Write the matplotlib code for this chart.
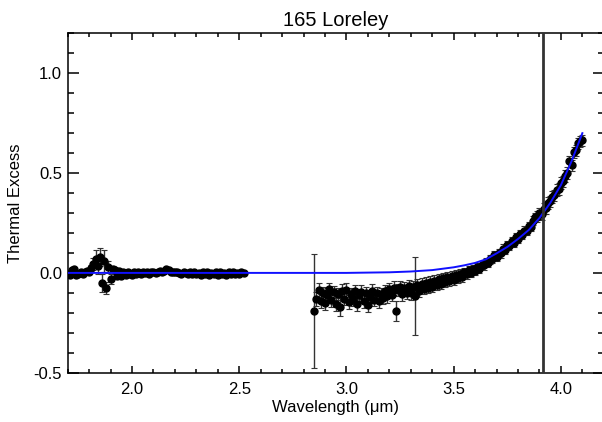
import numpy as np
import matplotlib
matplotlib.use("Agg")
import matplotlib.pyplot as plt
from matplotlib.ticker import MultipleLocator, FormatStrFormatter

plt.rcParams['font.family'] = ['Liberation Sans', 'DejaVu Sans']

title = "165 Loreley"

# short-wavelength segment
wl1 = [1.70, 1.71, 1.72, 1.73, 1.74, 1.75, 1.76, 1.77, 1.78, 1.79,
       1.80, 1.81, 1.82, 1.83, 1.84, 1.85, 1.86, 1.87, 1.88, 1.89,
       1.90, 1.91, 1.92, 1.93, 1.94, 1.95, 1.96, 1.97, 1.98, 1.99,
       2.00, 2.01, 2.02, 2.03, 2.04, 2.05, 2.06, 2.07, 2.08, 2.09,
       2.10, 2.11, 2.12, 2.13, 2.14, 2.15, 2.16, 2.17, 2.18, 2.19,
       2.20, 2.21, 2.22, 2.23, 2.24, 2.25, 2.26, 2.27, 2.28, 2.29,
       2.30, 2.31, 2.32, 2.33, 2.34, 2.35, 2.36, 2.37, 2.38, 2.39,
       2.40, 2.41, 2.42, 2.43, 2.44, 2.45, 2.46, 2.47, 2.48, 2.49,
       2.50, 2.51, 2.52]
ex1 = [-0.008, -0.012, 0.015, 0.018, -0.010, -0.004, 0.002, -0.008, 0.006, 0.010,
       0.006, 0.025, 0.045, 0.070, 0.035, 0.080, -0.050, 0.060, -0.075, 0.030,
       -0.030, 0.020, 0.012, -0.015, 0.010, -0.018, 0.006, -0.010, 0.004, -0.006,
       -0.012, 0.002, -0.005, 0.003, -0.004, 0.004, -0.002, 0.003, -0.004, 0.004,
       0.006, 0.000, 0.005, 0.007, 0.002, 0.010, 0.018, 0.012, 0.006, 0.002,
       0.004, 0.005, 0.001, -0.004, 0.004, 0.000, -0.006, 0.003, -0.008, 0.002,
       -0.006, 0.001, -0.010, 0.002, -0.008, 0.003, -0.010, 0.001, -0.006, 0.002,
       -0.010, 0.003, -0.006, 0.001, -0.009, 0.002, -0.006, 0.003, -0.008, 0.001,
       -0.004, 0.002, -0.003]
err1 = [0.008, 0.008, 0.008, 0.008, 0.008, 0.008, 0.008, 0.008, 0.008, 0.008,
        0.010, 0.015, 0.030, 0.045, 0.040, 0.045, 0.045, 0.055, 0.030, 0.030,
        0.025, 0.015, 0.012, 0.010, 0.010, 0.010, 0.008, 0.008, 0.008, 0.008,
        0.008, 0.006, 0.006, 0.006, 0.006, 0.006, 0.006, 0.006, 0.006, 0.006,
        0.006, 0.006, 0.006, 0.006, 0.006, 0.006, 0.006, 0.006, 0.006, 0.006,
        0.006, 0.006, 0.006, 0.006, 0.006, 0.006, 0.006, 0.006, 0.006, 0.006,
        0.006, 0.006, 0.006, 0.006, 0.006, 0.006, 0.006, 0.006, 0.006, 0.006,
        0.006, 0.006, 0.006, 0.006, 0.006, 0.006, 0.006, 0.006, 0.006, 0.006,
        0.006, 0.006, 0.006]

# long-wavelength segment
wl2 = [2.85, 2.86, 2.87, 2.88, 2.89, 2.90, 2.91, 2.92, 2.93, 2.94,
       2.95, 2.96, 2.97, 2.98, 2.99, 3.00, 3.01, 3.02, 3.03, 3.04,
       3.05, 3.06, 3.07, 3.08, 3.09, 3.10, 3.11, 3.12, 3.13, 3.14,
       3.15, 3.16, 3.17, 3.18, 3.19, 3.20, 3.21, 3.22, 3.23, 3.24,
       3.25, 3.26, 3.27, 3.28, 3.29, 3.30, 3.31, 3.32, 3.33, 3.34,
       3.35, 3.36, 3.37, 3.38, 3.39, 3.40, 3.41, 3.42, 3.43, 3.44,
       3.45, 3.46, 3.47, 3.48, 3.49, 3.50, 3.51, 3.52, 3.53, 3.54,
       3.55, 3.56, 3.57, 3.58, 3.59, 3.60, 3.61, 3.62, 3.63, 3.64,
       3.65, 3.66, 3.67, 3.68, 3.69, 3.70, 3.71, 3.72, 3.73, 3.74,
       3.75, 3.76, 3.77, 3.78, 3.79, 3.80, 3.81, 3.82, 3.83, 3.84,
       3.85, 3.86, 3.87, 3.88, 3.89, 3.90, 3.91, 3.92, 3.93, 3.94,
       3.95, 3.96, 3.97, 3.98, 3.99, 4.00, 4.01, 4.02, 4.03, 4.04,
       4.05, 4.06, 4.07, 4.08, 4.09, 4.10]
ex2 = [-0.190, -0.130, -0.085, -0.140, -0.100, -0.150, -0.110, -0.080, -0.135, -0.095,
       -0.155, -0.105, -0.170, -0.090, -0.130, -0.085, -0.145, -0.105, -0.130, -0.090,
       -0.155, -0.110, -0.095, -0.140, -0.100, -0.160, -0.120, -0.090, -0.135, -0.100,
       -0.140, -0.105, -0.125, -0.090, -0.115, -0.080, -0.110, -0.075, -0.190, -0.085,
       -0.070, -0.105, -0.075, -0.100, -0.065, -0.100, -0.070, -0.115, -0.060, -0.090,
       -0.055, -0.080, -0.050, -0.075, -0.045, -0.070, -0.040, -0.062, -0.030, -0.055,
       -0.028, -0.048, -0.022, -0.040, -0.018, -0.035, -0.012, -0.025, -0.004, -0.020,
       0.005, -0.008, 0.012, 0.000, 0.020, 0.010, 0.030, 0.022, 0.040, 0.038,
       0.055, 0.050, 0.068, 0.070, 0.088, 0.082, 0.100, 0.098, 0.122, 0.115,
       0.140, 0.135, 0.160, 0.152, 0.178, 0.172, 0.195, 0.190, 0.212, 0.210,
       0.235, 0.232, 0.262, 0.280, 0.282, 0.298, 0.295, 0.322, 0.325, 0.350,
       0.358, 0.380, 0.388, 0.415, 0.420, 0.450, 0.458, 0.485, 0.500, 0.560,
       0.540, 0.605, 0.615, 0.650, 0.660, 0.665]
err2 = [0.285, 0.035, 0.035, 0.035, 0.030, 0.035, 0.035, 0.030, 0.035, 0.030,
        0.035, 0.030, 0.045, 0.035, 0.030, 0.035, 0.035, 0.030, 0.035, 0.030,
        0.035, 0.030, 0.035, 0.035, 0.030, 0.035, 0.030, 0.035, 0.030, 0.030,
        0.035, 0.030, 0.030, 0.030, 0.035, 0.030, 0.030, 0.035, 0.050, 0.030,
        0.030, 0.035, 0.030, 0.030, 0.030, 0.035, 0.030, 0.195, 0.030, 0.030,
        0.030, 0.025, 0.030, 0.025, 0.030, 0.025, 0.030, 0.025, 0.025, 0.025,
        0.025, 0.025, 0.025, 0.025, 0.025, 0.025, 0.025, 0.025, 0.025, 0.025,
        0.022, 0.022, 0.022, 0.022, 0.022, 0.022, 0.022, 0.022, 0.022, 0.022,
        0.022, 0.022, 0.022, 0.022, 0.022, 0.022, 0.022, 0.022, 0.022, 0.022,
        0.022, 0.022, 0.022, 0.022, 0.022, 0.022, 0.022, 0.022, 0.022, 0.022,
        0.022, 0.022, 0.022, 0.022, 0.028, 0.028, 0.028, 0.028, 0.028, 0.028,
        0.028, 0.028, 0.028, 0.028, 0.028, 0.028, 0.028, 0.028, 0.028, 0.028,
        0.028, 0.028, 0.028, 0.028, 0.028, 0.028]

# thermal model (blue curve)
wl_model = [1.70, 2.50, 3.00, 3.20, 3.30, 3.40, 3.50, 3.55, 3.60, 3.65,
            3.70, 3.75, 3.80, 3.85, 3.90, 3.95, 4.00, 4.05, 4.10]
ex_model = [0.000, 0.000, 0.000, 0.003, 0.007, 0.014, 0.028, 0.038, 0.050, 0.068,
            0.098, 0.130, 0.170, 0.215, 0.275, 0.350, 0.440, 0.560, 0.700]

ref_wl = 3.915

fig = plt.figure(figsize=(6.02, 4.22), dpi=100)
ax = fig.add_axes([0.1125, 0.1168, 0.8905, 0.8042])

for wl, ex, er in [(wl1, ex1, err1), (wl2, ex2, err2)]:
    ax.errorbar(wl, ex, yerr=er, fmt='o', color='black', ms=5.0,
                ecolor='#333333', elinewidth=1.0, capsize=2.4, capthick=0.8,
                zorder=2)

ax.plot(wl_model, ex_model, color='#1010ff', lw=1.4, zorder=3)
ax.axvline(ref_wl, color='#333333', lw=2.0, zorder=4)

ax.set_xlim(1.7, 4.2)
ax.set_ylim(-0.5, 1.2)
ax.xaxis.set_major_locator(MultipleLocator(0.5))
ax.xaxis.set_minor_locator(MultipleLocator(0.1))
ax.yaxis.set_major_locator(MultipleLocator(0.5))
ax.yaxis.set_minor_locator(MultipleLocator(0.1))
ax.xaxis.set_major_formatter(FormatStrFormatter('%.1f'))
ax.yaxis.set_major_formatter(FormatStrFormatter('%.1f'))

ax.tick_params(axis='both', which='both', direction='in', top=True, right=True,
               width=1.1, labelsize=12)
ax.tick_params(axis='y', which='major', length=8, pad=4)
ax.tick_params(axis='y', which='minor', length=4.3)
ax.tick_params(axis='x', which='major', length=5, pad=7)
ax.tick_params(axis='x', which='minor', length=3)
for s in ax.spines.values():
    s.set_linewidth(1.1)

ax.set_title(title, fontsize=14.5, pad=5)
ax.set_xlabel("Wavelength (\u03bcm)", fontsize=12, labelpad=2)
ax.set_ylabel("Thermal Excess", fontsize=12, labelpad=8)

fig.savefig("out.png", dpi=100)
